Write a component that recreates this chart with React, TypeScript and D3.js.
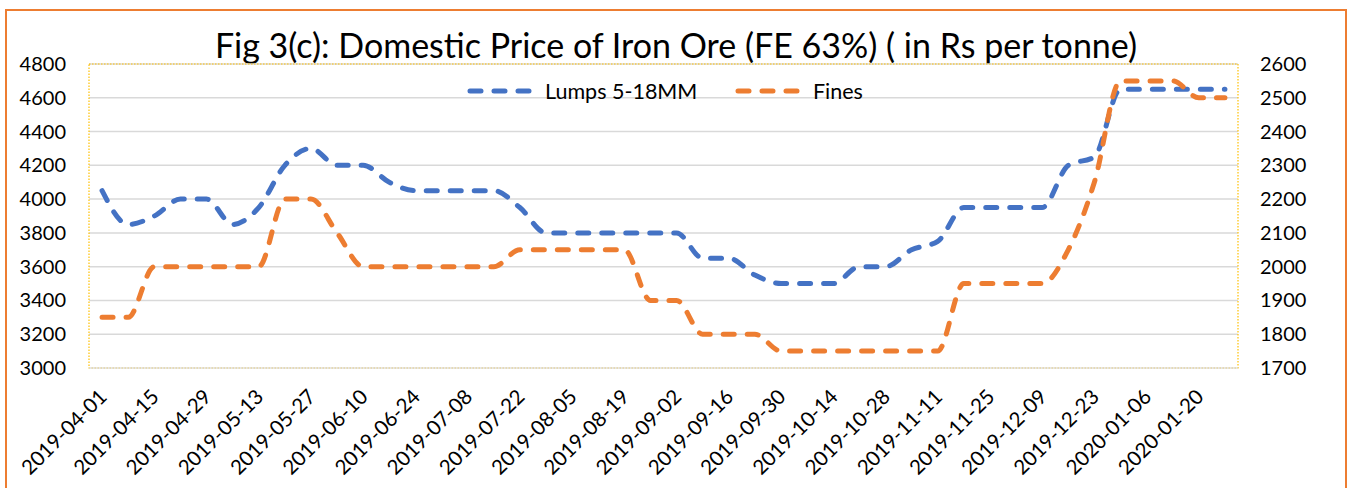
import React from "react";
import * as d3 from "d3";

// weekly observations, 2019-04-01 .. 2020-01-27
const weeks: string[] = [
  "2019-04-01", "2019-04-08", "2019-04-15", "2019-04-22", "2019-04-29", "2019-05-06",
  "2019-05-13", "2019-05-20", "2019-05-27", "2019-06-03", "2019-06-10", "2019-06-17",
  "2019-06-24", "2019-07-01", "2019-07-08", "2019-07-15", "2019-07-22", "2019-07-29",
  "2019-08-05", "2019-08-12", "2019-08-19", "2019-08-26", "2019-09-02", "2019-09-09",
  "2019-09-16", "2019-09-23", "2019-09-30", "2019-10-07", "2019-10-14", "2019-10-21",
  "2019-10-28", "2019-11-04", "2019-11-11", "2019-11-18", "2019-11-25", "2019-12-02",
  "2019-12-09", "2019-12-16", "2019-12-23", "2019-12-30", "2020-01-06", "2020-01-13",
  "2020-01-20", "2020-01-27",
];

// Lumps 5-18MM, left axis
const lumps: number[] = [
  4050, 3850, 3900, 4000, 4000, 3850, 3950, 4200, 4300, 4200, 4200, 4100,
  4050, 4050, 4050, 4050, 3950, 3800, 3800, 3800, 3800, 3800, 3800, 3650,
  3650, 3550, 3500, 3500, 3500, 3600, 3600, 3700, 3750, 3950, 3950, 3950,
  3950, 4200, 4250, 4650, 4650, 4650, 4650, 4650,
];

// Fines, right axis
const fines: number[] = [
  1850, 1850, 2000, 2000, 2000, 2000, 2000, 2200, 2200, 2100, 2000, 2000,
  2000, 2000, 2000, 2000, 2050, 2050, 2050, 2050, 2050, 1900, 1900, 1800,
  1800, 1800, 1750, 1750, 1750, 1750, 1750, 1750, 1750, 1950, 1950, 1950,
  1950, 2050, 2250, 2550, 2550, 2550, 2500, 2500,
];

const leftTicks = [3000, 3200, 3400, 3600, 3800, 4000, 4200, 4400, 4600, 4800];
const rightTicks = [1700, 1800, 1900, 2000, 2100, 2200, 2300, 2400, 2500, 2600];

const title = "Fig 3(c): Domestic Price of Iron Ore (FE 63%) ( in Rs per tonne)";
const seriesNames = ["Lumps 5-18MM", "Fines"];

const BLUE = "#4472C4";
const ORANGE = "#ED7D31";
const FONT = "Lato, 'Open Sans', sans-serif";

export default function App() {
  const width = 1352, height = 488;
  const plot = { left: 89, right: 1238, top: 64, bottom: 368 };

  const x = d3.scaleBand<string>().domain(weeks).range([plot.left, plot.right]);
  const cx = (d: string) => (x(d) as number) + x.bandwidth() / 2;
  const yL = d3.scaleLinear().domain([3000, 4800]).range([plot.bottom, plot.top]);
  const yR = d3.scaleLinear().domain([1700, 2600]).range([plot.bottom, plot.top]);

  const curve = d3.curveMonotoneX;
  const lumpsPath = d3.line<number>().x((_, i) => cx(weeks[i])).y(d => yL(d)).curve(curve)(lumps);
  const finesPath = d3.line<number>().x((_, i) => cx(weeks[i])).y(d => yR(d)).curve(curve)(fines);

  const dash = { strokeWidth: 5, strokeDasharray: "11 13", strokeLinecap: "round" as const, fill: "none" };

  return (
    <svg width={width} height={height} style={{ position: "absolute", left: 0, top: 0, background: "#fff" }}
      fontFamily={FONT}>
      <rect x={6} y={10} width={1340} height={520} fill="#fff" stroke={ORANGE} strokeWidth={2} />

      <text x={676} y={58} textAnchor="middle" fontSize={34} fill="#000">{title}</text>

      {leftTicks.slice(1).map(t => (
        <line key={t} x1={plot.left} x2={plot.right} y1={yL(t)} y2={yL(t)} stroke="#D9D9D9" strokeWidth={1.5} />
      ))}
      <rect x={plot.left} y={plot.top} width={plot.right - plot.left} height={plot.bottom - plot.top}
        fill="none" stroke="#FFC000" strokeWidth={1.2} strokeDasharray="1.5 1.5" />
      <line x1={plot.left} x2={plot.right} y1={plot.bottom} y2={plot.bottom} stroke="#D9D9D9" strokeWidth={1.5} opacity={0.8} />

      {leftTicks.map(t => (
        <text key={t} x={66} y={yL(t)} dy="0.35em" textAnchor="end" fontSize={20} fill="#000">{t}</text>
      ))}
      {rightTicks.map(t => (
        <text key={t} x={1260} y={yR(t)} dy="0.35em" textAnchor="start" fontSize={20} fill="#000">{t}</text>
      ))}

      {weeks.filter((_, i) => i % 2 === 0).map(d => (
        <text key={d} transform={`translate(${cx(d) + 6},${plot.bottom + 30}) rotate(-45)`}
          textAnchor="end" fontSize={20.5} fill="#000">{d}</text>
      ))}

      <path d={lumpsPath ?? ""} stroke={BLUE} {...dash} />
      <path d={finesPath ?? ""} stroke={ORANGE} {...dash} />

      <g transform="translate(470,91)">
        <line x1={0} x2={62} y1={0} y2={0} stroke={BLUE} {...dash} />
        <text x={75} y={0} dy="0.35em" fontSize={21.5} fill="#000">{seriesNames[0]}</text>
      </g>
      <g transform="translate(738,91)">
        <line x1={0} x2={62} y1={0} y2={0} stroke={ORANGE} {...dash} />
        <text x={75} y={0} dy="0.35em" fontSize={21.5} fill="#000">{seriesNames[1]}</text>
      </g>
    </svg>
  );
}
